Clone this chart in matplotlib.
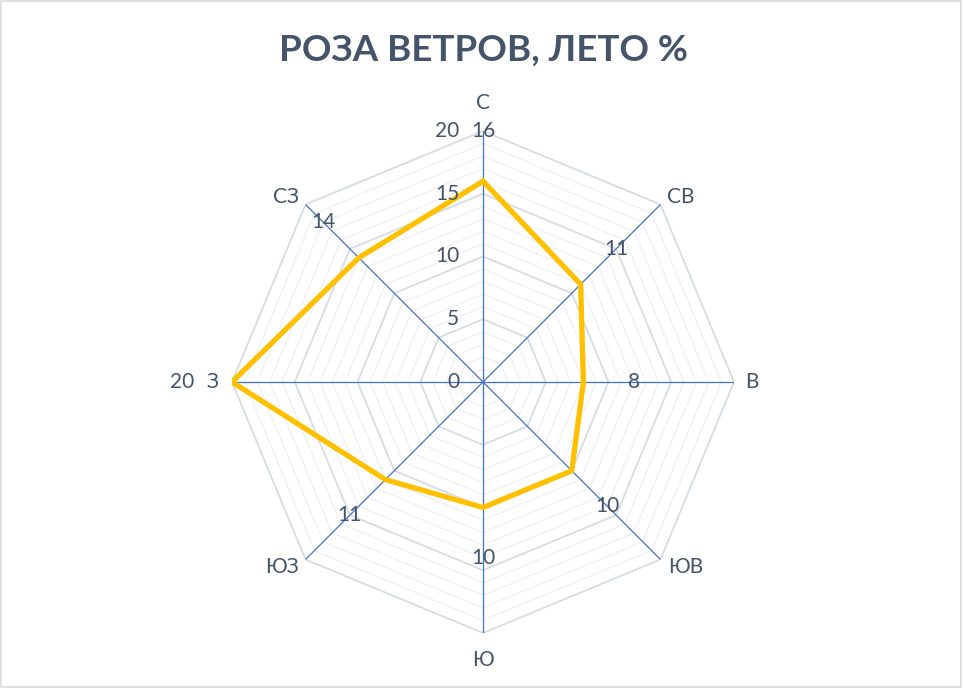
import numpy as np
import matplotlib
matplotlib.use("Agg")
import matplotlib.pyplot as plt
from matplotlib.patches import Rectangle

directions = ["С", "СВ", "В", "ЮВ", "Ю", "ЮЗ", "З", "СЗ"]
values = [16, 11, 8, 10, 10, 11, 20, 14]
r_ticks = [0, 5, 10, 15, 20]
title = "РОЗА ВЕТРОВ, ЛЕТО %"

TEXT = "#44546A"
FONT = "Lato"
PX = 0.72  # points per pixel at dpi 100

fig = plt.figure(figsize=(9.63, 6.88), dpi=100)
fig.patches.append(Rectangle((0.001, 0.001), 0.997, 0.997, transform=fig.transFigure,
                             fill=False, edgecolor="#D9D9D9", linewidth=1.2))

ax = fig.add_axes([232/963, 55/688, 502/963, 502/688], projection="polar")
ax.set_theta_zero_location("N")
ax.set_theta_direction(-1)
ax.set_ylim(0, 20)
ax.grid(False)
ax.spines["polar"].set_visible(False)
ax.set_xticks([])
ax.set_yticks([])
ax.patch.set_alpha(0)

n = len(directions)
theta = np.arange(n) * 2 * np.pi / n
theta_c = np.append(theta, theta[0])

# grid polygons
for r in range(1, 21):
    major = (r % 5 == 0)
    ax.plot(theta_c, [r] * (n + 1), color="#D6DCE4" if major else "#EDEFF2",
            lw=1.3 if major else 0.9, zorder=1)
# spokes
for t in theta:
    ax.plot([t, t], [0, 20], color="#4472C4", lw=0.9, zorder=2)

# data
vals_c = values + [values[0]]
ax.plot(theta_c, vals_c, color="#FFC000", lw=3.8, solid_joinstyle="miter", zorder=3)

# radial tick labels
for r in r_ticks:
    ax.annotate(str(r), xy=(0, r), xytext=(-17, 0), textcoords="offset points",
                ha="right", va="center", fontsize=15, color=TEXT, family=FONT)

# category labels (pixel offsets from the spoke end)
label_offsets = [(0, 28), (20, 8), (18, 0), (25, -8), (0, -27), (-24, -8), (-19, 0), (-20, 8)]
for t, d, (dx, dy) in zip(theta, directions, label_offsets):
    ax.annotate(d, xy=(t, 20), xytext=(dx * PX, dy * PX), textcoords="offset points",
                ha="center", va="center", fontsize=15, color=TEXT, family=FONT)

# data labels
for t, v in zip(theta, values):
    ax.text(t, v + 4, str(v), ha="center", va="center", fontsize=15, color=TEXT, family=FONT)

fig.text(483/963, 1 - 50/688, title, ha="center", va="center", fontsize=26.5,
         fontweight="bold", color=TEXT, family=FONT)

fig.savefig("out.png", dpi=100)
